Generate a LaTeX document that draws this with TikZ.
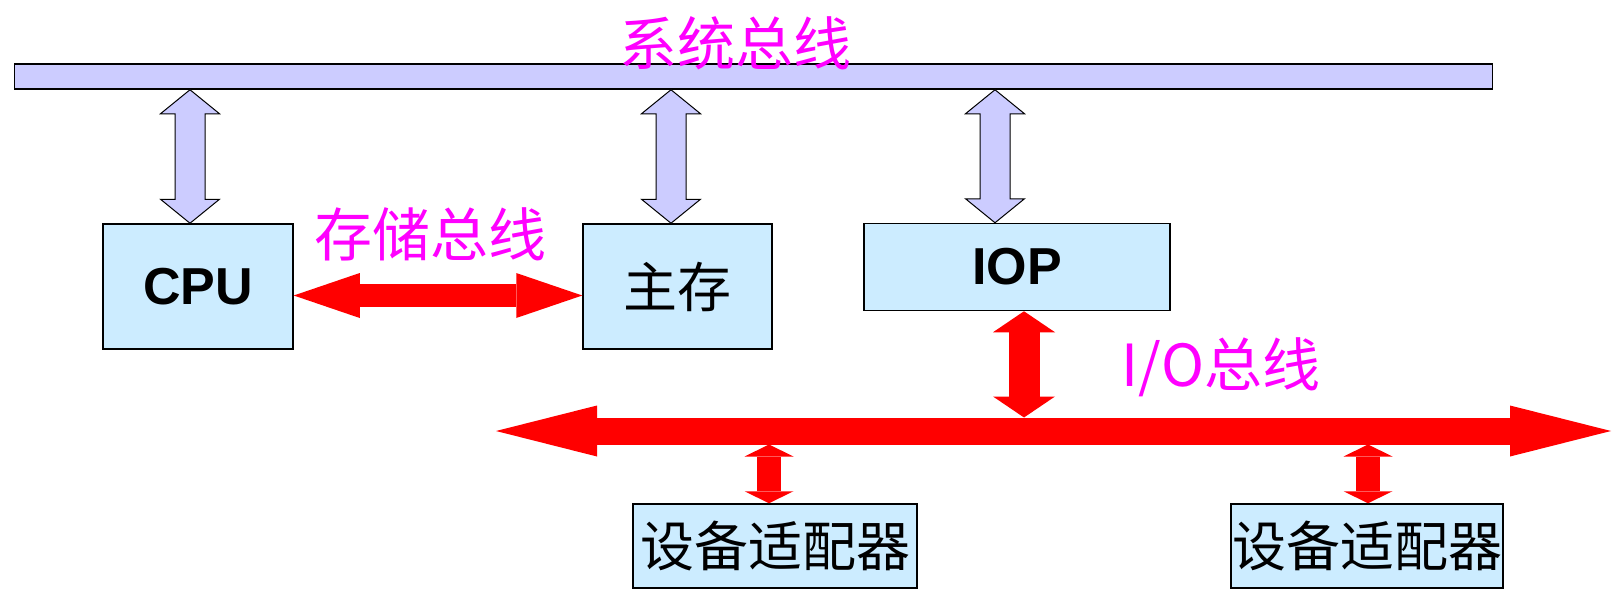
\documentclass[tikz,border=0pt]{standalone}
\usepackage{fontspec}
\setsansfont{Liberation Sans}
\newfontfamily\cjk{Noto Sans CJK SC}
\definecolor{BusLavender}{HTML}{CCCCFF}
\definecolor{BoxBlue}{HTML}{CCECFF}
\definecolor{LabelMagenta}{HTML}{FF00FF}
\usetikzlibrary{positioning, arrows.meta, calc}

% outlined double arrow between an upper and a lower point
\newcommand{\hollowarrow}[2]{%
  \draw[hollow] (#1) -- ++(29.5,24) -- ++(-14.5,0) -- ($(#2)+(15,-24)$) -- ++(14.5,0)
    -- (#2) -- ++(-29.5,-24) -- ++(14.5,0) -- ($(#1)+(-15,24)$) -- ++(-14.5,0) -- cycle;}

\begin{document}
\begin{tikzpicture}[
  x=1pt, y=-1pt,
  unitbox/.style={draw, line width=1.5pt, fill=BoxBlue, inner sep=0pt},
  hollow/.style={draw, line width=1pt, fill=BusLavender, line join=miter},
  redarrow/.style n args={3}{draw=red, line width=#1,
    {Triangle[length=#2, width=#3, line width=0pt]}-{Triangle[length=#2, width=#3, line width=0pt]}},
  buslabel/.style={text=LabelMagenta, font=\cjk\fontsize{58}{60}\selectfont, inner sep=0pt},
  latin/.style={font=\sffamily\bfseries\fontsize{52}{56}\selectfont},
  hanzi/.style={font=\cjk\fontsize{54}{56}\selectfont},
]
  \useasboundingbox (0,0) rectangle (1623,594);

  % System bus
  \node[draw, line width=1.5pt, fill=BusLavender, minimum width=1478pt, minimum height=25pt, inner sep=0pt] (sysbus) at (753.5,76.5) {};
  \node[buslabel] (syslabel) at (735,43) {系统总线};

  \node[unitbox, latin, minimum width=190pt, minimum height=125pt] (cpu) at (198,286.5) {CPU};
  \node[unitbox, hanzi, minimum width=189pt, minimum height=125pt] (mem) at (677.5,286.5) {主存};
  \node[unitbox, latin, minimum width=306pt, minimum height=87pt] (iop) at (1017,267) {IOP};

  \coordinate (cpuDn) at ([xshift=-8pt]cpu.north);
  \coordinate (cpuUp) at (sysbus.south -| cpuDn);
  \coordinate (memDn) at ([xshift=-6.5pt]mem.north);
  \coordinate (memUp) at (sysbus.south -| memDn);
  \coordinate (iopDn) at ([xshift=-22pt]iop.north);
  \coordinate (iopUp) at (sysbus.south -| iopDn);
  \hollowarrow{cpuUp}{cpuDn}
  \hollowarrow{memUp}{memDn}
  \hollowarrow{iopUp}{iopDn}

  % Memory bus
  \draw[redarrow={23pt}{66pt}{45pt}] ([yshift=-9pt]cpu.east) -- ([yshift=-9pt]mem.west);
  \node[buslabel] (memlabel) at (430,234) {存储总线};

  % I/O bus
  \coordinate (iol) at (496,431);
  \coordinate (ior) at (1611,431);
  \draw[redarrow={27pt}{101pt}{51pt}] (iol) -- (ior);
  \node[buslabel] (iolabel) at (1221,367) {I/O总线};

  \coordinate (iopOut) at ([xshift=7pt]iop.south);
  \coordinate (iopBus) at ($(iopOut |- iol)+(0,-13.5)$);
  \draw[redarrow={31pt}{21pt}{62pt}] (iopOut) -- (iopBus);

  \node[unitbox, hanzi, minimum width=284pt, minimum height=84pt] (adapA) at (775,546) {设备适配器};
  \node[unitbox, hanzi, minimum width=272pt, minimum height=84pt] (adapB) at (1367,546) {设备适配器};

  \coordinate (adapAIn) at ([xshift=-6pt]adapA.north);
  \coordinate (adapABus) at ($(adapAIn |- iol)+(0,13.5)$);
  \draw[redarrow={24pt}{12pt}{49pt}] (adapABus) -- (adapAIn);
  \coordinate (adapBIn) at ([xshift=1pt]adapB.north);
  \coordinate (adapBBus) at ($(adapBIn |- iol)+(0,13.5)$);
  \draw[redarrow={24pt}{12pt}{49pt}] (adapBBus) -- (adapBIn);
\end{tikzpicture}
\end{document}
